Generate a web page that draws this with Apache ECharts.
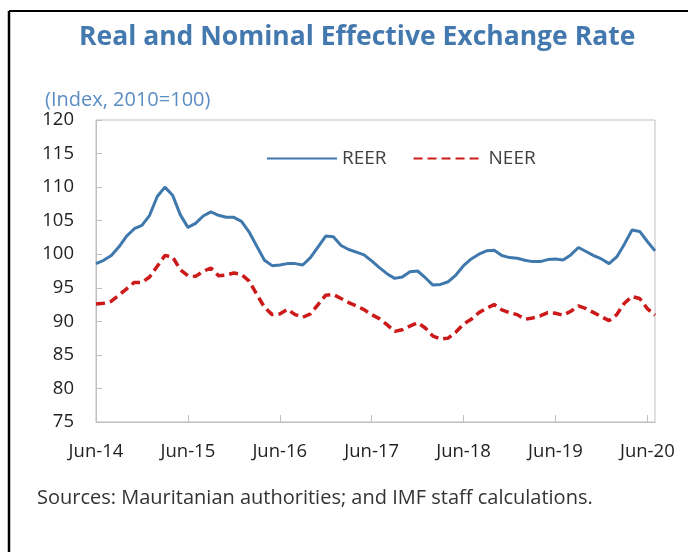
<!DOCTYPE html>
<html>
<head>
<meta charset="utf-8">
<script src="https://cdn.jsdelivr.net/npm/echarts@6/dist/echarts.min.js"></script>
<style>
  html, body { margin: 0; padding: 0; background: #fff; }
  #chart { width: 688px; height: 552px; }
</style>
</head>
<body>
<div id="chart"></div>
<script>
// monthly, Jun-14 .. Jul-20 (index 0 = Jun-14)
var tickLabels = ['Jun-14', 'Jun-15', 'Jun-16', 'Jun-17', 'Jun-18', 'Jun-19', 'Jun-20'];

var reer = [
    98.6, 99.1, 99.8, 101.1, 102.7, 103.8, 104.3, 105.8, 108.6, 110.0, 108.8, 105.9,
    104.0, 104.6, 105.7, 106.3, 105.8, 105.5, 105.5, 104.9, 103.3, 101.2, 99.1, 98.3,
    98.4, 98.6, 98.6, 98.4, 99.5, 101.1, 102.7, 102.6, 101.3, 100.7, 100.3, 99.9,
    99.0, 98.0, 97.1, 96.4, 96.6, 97.4, 97.5, 96.5, 95.4, 95.5, 95.9, 96.9,
    98.3, 99.3, 100.0, 100.5, 100.6, 99.8, 99.5, 99.4, 99.1, 98.9, 98.9, 99.2,
    99.3, 99.15, 99.9, 101.0, 100.4, 99.8, 99.3, 98.6, 99.6, 101.5, 103.6, 103.4,
    101.9, 100.5
];

var neer = [
    92.6, 92.7, 93.0, 93.9, 94.85, 95.8, 95.8, 96.6, 98.2, 99.8, 99.6, 97.7,
    96.8, 96.7, 97.45, 97.95, 96.8, 96.9, 97.2, 97.0, 96.0, 94.0, 92.1, 91.0,
    91.1, 91.8, 91.0, 90.6, 91.1, 92.5, 93.9, 94.0, 93.4, 92.8, 92.3, 91.75,
    91.0, 90.4, 89.5, 88.5, 88.75, 89.3, 89.8, 89.0, 87.8, 87.35, 87.5, 88.4,
    89.6, 90.3, 91.3, 91.95, 92.5, 91.7, 91.3, 91.0, 90.3, 90.5, 90.8, 91.3,
    91.2, 90.9, 91.5, 92.3, 91.9, 91.3, 90.7, 90.1, 91.0, 92.7, 93.7, 93.4,
    91.9, 90.9
];

function toPoints(arr) {
    var out = [];
    for (var i = 0; i < arr.length; i++) {
        out.push([i, arr[i]]);
    }
    return out;
}

var FONT = 'Open Sans';
var AXIS_GRAY = '#bfbfbf';

var option = {
    animation: false,
    backgroundColor: '#fff',
    textStyle: { fontFamily: FONT },
    title: [
        {
            text: 'Real and Nominal Effective Exchange Rate',
            left: 74,
            top: 19,
            textStyle: { fontFamily: FONT, fontSize: 26.5, fontWeight: 'bold', color: '#4479b0' }
        },
        {
            text: '(Index, 2010=100)',
            left: 40,
            top: 85,
            textStyle: { fontFamily: FONT, fontSize: 20, fontWeight: 'normal', color: '#5b8dc4' }
        },
        {
            text: 'Sources: Mauritanian authorities; and IMF staff calculations.',
            left: 32,
            top: 483,
            textStyle: { fontFamily: FONT, fontSize: 20, fontWeight: 'normal', color: '#333' }
        }
    ],
    legend: {
        left: 266,
        top: 149,
        padding: 0,
        itemWidth: 70,
        itemHeight: 14,
        itemGap: 26,
        itemStyle: { opacity: 0 },
        textStyle: { fontFamily: FONT, fontSize: 19, color: '#404040' },
        data: ['REER', 'NEER']
    },
    grid: {
        left: 96,
        top: 120,
        right: 33,
        bottom: 130,
        show: true,
        borderColor: AXIS_GRAY,
        borderWidth: 1
    },
    xAxis: {
        type: 'value',
        min: 0,
        max: 73,
        interval: 12,
        axisLine: { show: true, lineStyle: { color: AXIS_GRAY } },
        axisTick: { show: true, inside: true, length: 7, lineStyle: { color: AXIS_GRAY } },
        splitLine: { show: false },
        axisLabel: {
            margin: 20,
            fontFamily: FONT,
            fontSize: 18.5,
            color: '#222',
            showMaxLabel: false,
            formatter: function (v) { return tickLabels[v / 12] || ''; }
        }
    },
    yAxis: {
        type: 'value',
        min: 75,
        max: 120,
        interval: 5,
        axisLine: { show: true, lineStyle: { color: AXIS_GRAY } },
        axisTick: { show: true, inside: true, length: 6, lineStyle: { color: AXIS_GRAY } },
        splitLine: { show: false },
        axisLabel: { margin: 22, fontFamily: FONT, fontSize: 18.5, color: '#222' }
    },
    series: [
        {
            name: 'REER',
            type: 'line',
            symbol: 'none',
            data: toPoints(reer),
            color: '#3f78ad',
            lineStyle: { width: 3, color: '#3f78ad' }
        },
        {
            name: 'NEER',
            type: 'line',
            symbol: 'none',
            data: toPoints(neer),
            color: '#cc1a1a',
            lineStyle: { width: 3.5, color: '#cc1a1a', type: [9, 5] }
        }
    ],
    graphic: [
        { type: 'line', shape: { x1: 9, y1: 11, x2: 688, y2: 11 }, style: { stroke: '#000', lineWidth: 2 } },
        { type: 'line', shape: { x1: 9, y1: 11, x2: 9, y2: 552 }, style: { stroke: '#000', lineWidth: 2.5 } }
    ]
};

var myChart = echarts.init(document.getElementById('chart'));
myChart.setOption(option);
</script>
</body>
</html>
